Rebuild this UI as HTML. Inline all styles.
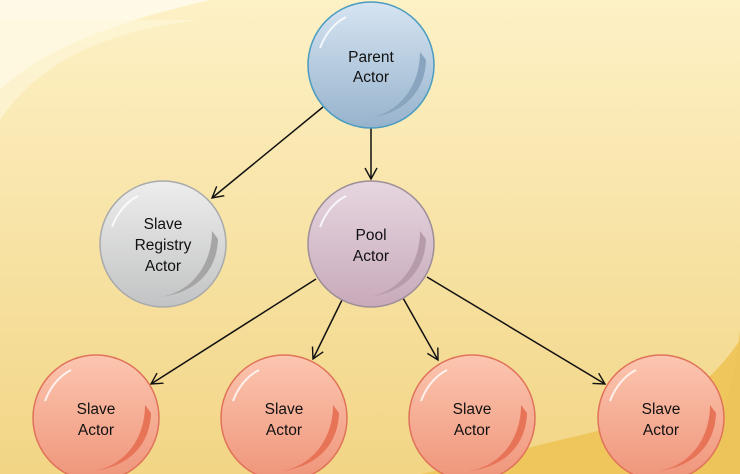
<!DOCTYPE html>
<html><head><style>body{margin:0}svg{display:block}text{font-family:"Liberation Sans",sans-serif;font-size:15.5px;fill:#111;text-anchor:middle}</style></head><body>
<svg width="740" height="474" viewBox="0 0 740 474" xmlns="http://www.w3.org/2000/svg">
<defs>
<linearGradient id="bg" x1="0" y1="0" x2="0" y2="1"><stop offset="0" stop-color="#fdf1c6"/><stop offset="1" stop-color="#f2d585"/></linearGradient>
<linearGradient id="gb" x1="0" y1="0" x2="0" y2="1"><stop offset="0" stop-color="#d6e4f2"/><stop offset="1" stop-color="#97b3cc"/></linearGradient>
<linearGradient id="gg" x1="0" y1="0" x2="0" y2="1"><stop offset="0" stop-color="#ededed"/><stop offset="1" stop-color="#c2c3c4"/></linearGradient>
<linearGradient id="gp" x1="0" y1="0" x2="0" y2="1"><stop offset="0" stop-color="#e6d6e0"/><stop offset="1" stop-color="#c8aabb"/></linearGradient>
<linearGradient id="gr" x1="0" y1="0" x2="0" y2="1"><stop offset="0" stop-color="#fcc6b0"/><stop offset="1" stop-color="#ef957a"/></linearGradient>
<marker id="a" markerWidth="14" markerHeight="14" refX="12" refY="7" orient="auto" markerUnits="userSpaceOnUse"><path d="M1,1 L12,7 L1,13" fill="none" stroke="#111" stroke-width="1.4"/></marker>
</defs>
<rect width="740" height="474" fill="url(#bg)"/>
<path d="M0,0 H210 C120,20 40,50 0,90 Z" fill="#fffbea" opacity="0.9"/>
<path d="M0,20 H200 C110,30 40,60 0,120 Z" fill="#fef7dc" opacity="0.6"/>
<path d="M740,340 C700,400 650,420 560,440 C500,455 450,468 420,474 H740 Z" fill="#eec65c"/>
<path d="M740,330 V474 H690 C715,440 735,390 740,330Z" fill="#edc45a"/>
<g stroke="#111" stroke-width="1.5" fill="none" marker-end="url(#a)">
<line x1="323" y1="107" x2="212" y2="198"/>
<line x1="371" y1="128" x2="371" y2="179"/>
<line x1="316" y1="279" x2="151" y2="384"/>
<line x1="342" y1="300" x2="313" y2="359"/>
<line x1="403" y1="298" x2="438" y2="360"/>
<line x1="427" y1="277" x2="605" y2="384"/>
</g>
<g id="n">
</g>
<g>
<circle cx="371" cy="65" r="63" fill="url(#gb)" stroke="#4a9cc0" stroke-width="1.5"/>
<path d="M420,52 C420,90 395,115 367,118 C400,115 425,95 426,60 Z" fill="#88a4be"/>
<path d="M320,48 C326,32 336,22 346,17" stroke="#fff" stroke-width="2" fill="none" opacity="0.8"/>
<text x="371" y="62">Parent</text><text x="371" y="82">Actor</text>

<circle cx="163" cy="244" r="63" fill="url(#gg)" stroke="#a9aaab" stroke-width="1.5"/>
<path d="M212,231 C212,269 187,294 159,297 C192,294 217,274 218,239 Z" fill="#a5a5a5"/>
<path d="M112,227 C118,211 128,201 138,196" stroke="#fff" stroke-width="2" fill="none" opacity="0.8"/>
<text x="163" y="229">Slave</text><text x="163" y="250">Registry</text><text x="163" y="271">Actor</text>

<circle cx="371" cy="244" r="63" fill="url(#gp)" stroke="#9d8e98" stroke-width="1.5"/>
<path d="M420,231 C420,269 395,294 367,297 C400,294 425,274 426,239 Z" fill="#b69bab"/>
<path d="M320,227 C326,211 336,201 346,196" stroke="#fff" stroke-width="2" fill="none" opacity="0.8"/>
<text x="371" y="240">Pool</text><text x="371" y="261">Actor</text>
</g>
<g>
<circle cx="96" cy="418" r="63" fill="url(#gr)" stroke="#e0735a" stroke-width="1.5"/>
<path d="M145,405 C145,443 120,468 92,471 C125,468 150,448 151,413 Z" fill="#e87458"/>
<path d="M45,401 C51,385 61,375 71,370" stroke="#fff" stroke-width="2" fill="none" opacity="0.8"/>
<text x="96" y="414">Slave</text><text x="96" y="435">Actor</text>

<circle cx="284" cy="418" r="63" fill="url(#gr)" stroke="#e0735a" stroke-width="1.5"/>
<path d="M333,405 C333,443 308,468 280,471 C313,468 338,448 339,413 Z" fill="#e87458"/>
<path d="M233,401 C239,385 249,375 259,370" stroke="#fff" stroke-width="2" fill="none" opacity="0.8"/>
<text x="284" y="414">Slave</text><text x="284" y="435">Actor</text>

<circle cx="472" cy="418" r="63" fill="url(#gr)" stroke="#e0735a" stroke-width="1.5"/>
<path d="M521,405 C521,443 496,468 468,471 C501,468 526,448 527,413 Z" fill="#e87458"/>
<path d="M421,401 C427,385 437,375 447,370" stroke="#fff" stroke-width="2" fill="none" opacity="0.8"/>
<text x="472" y="414">Slave</text><text x="472" y="435">Actor</text>

<circle cx="661" cy="418" r="63" fill="url(#gr)" stroke="#e0735a" stroke-width="1.5"/>
<path d="M710,405 C710,443 685,468 657,471 C690,468 715,448 716,413 Z" fill="#e87458"/>
<path d="M610,401 C616,385 626,375 636,370" stroke="#fff" stroke-width="2" fill="none" opacity="0.8"/>
<text x="661" y="414">Slave</text><text x="661" y="435">Actor</text>
</g>
</svg>
</body></html>
